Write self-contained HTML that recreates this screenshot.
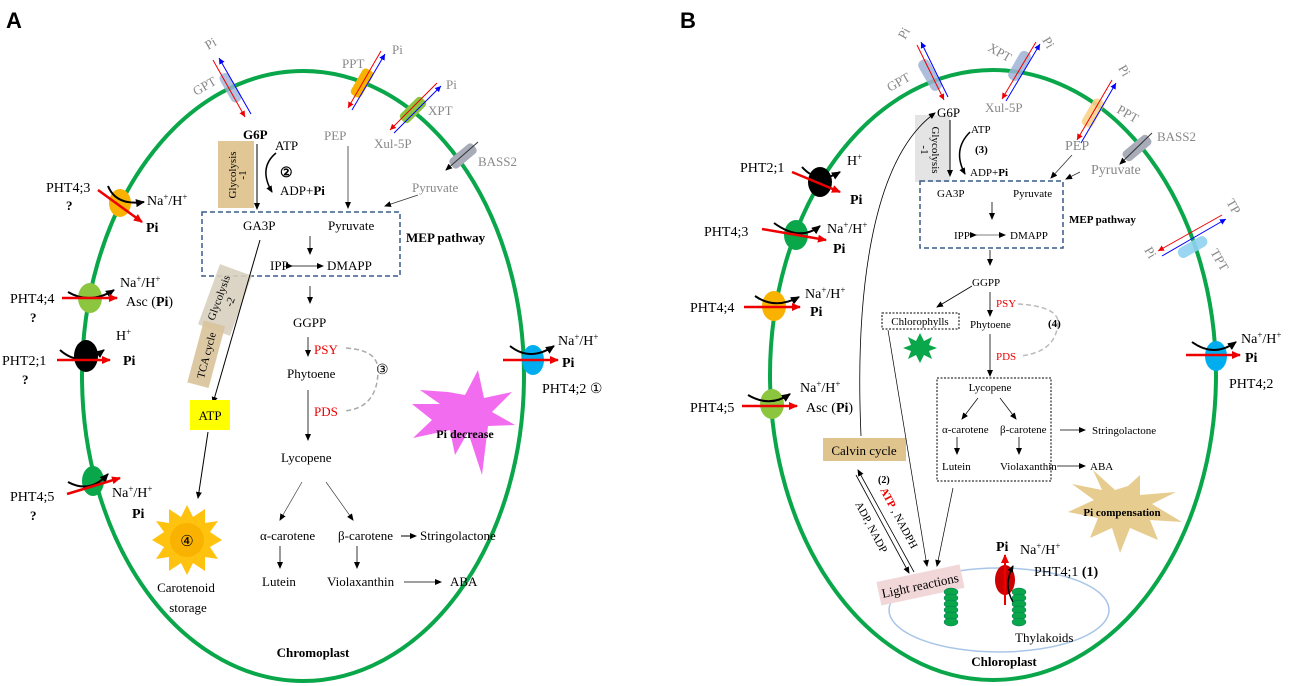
<!DOCTYPE html>
<html><head><meta charset="utf-8"><style>
html,body{margin:0;padding:0;background:#fff}
svg{display:block}
text{font-family:"Liberation Serif",serif;font-size:13px;fill:#000}
.g{fill:#888}.b{font-weight:bold}.r{fill:#e00}
.s{font-size:11px}
.t{font-family:"Liberation Sans",sans-serif;font-weight:bold;font-size:22px}
</style></head><body>
<svg width="1289" height="686" viewBox="0 0 1289 686" xmlns="http://www.w3.org/2000/svg">
<defs>
<marker id="k" markerWidth="8" markerHeight="8" refX="6" refY="3" orient="auto" markerUnits="userSpaceOnUse"><path d="M0,0 L7,3 L0,6z" fill="#000"/></marker>
<marker id="rm" markerWidth="10" markerHeight="10" refX="8" refY="4" orient="auto" markerUnits="userSpaceOnUse"><path d="M0,0 L9,4 L0,8z" fill="#e00"/></marker>
<marker id="rs" markerWidth="8" markerHeight="8" refX="6" refY="3" orient="auto" markerUnits="userSpaceOnUse"><path d="M0,0 L6,3 L0,6z" fill="#e00"/></marker>
<marker id="bs" markerWidth="8" markerHeight="8" refX="6" refY="3" orient="auto" markerUnits="userSpaceOnUse"><path d="M0,0 L6,3 L0,6z" fill="#00f"/></marker>
<marker id="kb" markerWidth="10" markerHeight="10" refX="8" refY="4" orient="auto" markerUnits="userSpaceOnUse"><path d="M0,0 L9,4 L0,8z" fill="#000"/></marker>
</defs>

<!-- ===== Panel A ===== -->
<text x="6" y="28" class="t">A</text>
<ellipse cx="303" cy="376" rx="221" ry="305" fill="none" stroke="#0aa64a" stroke-width="4"/>

<g transform="rotate(-30 230 88)"><rect x="225" y="72" width="11" height="32" rx="5" fill="#9fb3d6" opacity="0.8"/></g>
<line x1="213" y1="60" x2="245" y2="117" stroke="#e00" stroke-width="1" marker-end="url(#rs)"/>
<line x1="251" y1="114" x2="219" y2="58" stroke="#00f" stroke-width="1" marker-end="url(#bs)"/>
<text x="208" y="50" class="g" transform="rotate(-30 208 50)">Pi</text>
<text x="196" y="96" class="g" transform="rotate(-30 196 96)">GPT</text>
<g transform="rotate(30 362 83)"><rect x="356" y="68" width="12" height="30" rx="4" fill="#f9b200"/></g>
<line x1="381" y1="51" x2="348" y2="108" stroke="#e00" stroke-width="1" marker-end="url(#rs)"/>
<line x1="352" y1="110" x2="385" y2="54" stroke="#00f" stroke-width="1" marker-end="url(#bs)"/>
<text x="342" y="68" class="g">PPT</text><text x="392" y="54" class="g">Pi</text>
<g transform="rotate(45 413 110)"><rect x="407" y="95" width="12" height="30" rx="4" fill="#8cc63f"/></g>
<line x1="437" y1="83" x2="390" y2="130" stroke="#e00" stroke-width="1" marker-end="url(#rs)"/>
<line x1="394" y1="133" x2="441" y2="86" stroke="#00f" stroke-width="1" marker-end="url(#bs)"/>
<text x="446" y="89" class="g">Pi</text><text x="428" y="115" class="g">XPT</text>
<text x="374" y="148" class="g">Xul-5P</text>
<g transform="rotate(50 463 156)"><rect x="457" y="141" width="12" height="30" rx="4" fill="#a8acb8"/></g>
<line x1="478" y1="142" x2="446" y2="170" stroke="#333" stroke-width="1" marker-end="url(#k)"/>
<text x="478" y="166" class="g">BASS2</text>
<text x="412" y="192" class="g">Pyruvate</text>
<line x1="418" y1="195" x2="385" y2="206" stroke="#333" stroke-width="0.8" marker-end="url(#k)"/>

<text x="243" y="139" class="b">G6P</text>
<text x="275" y="150">ATP</text>
<rect x="218" y="141" width="36" height="67" fill="#d9b97c" opacity="0.8"/>
<text x="236" y="175" transform="rotate(-90 236 175)" text-anchor="middle" class="s">Glycolysis</text>
<text x="246" y="175" transform="rotate(-90 246 175)" text-anchor="middle" class="s">-1</text>
<line x1="257" y1="144" x2="257" y2="209" stroke="#000" marker-end="url(#k)"/>
<path d="M276,153 Q258,168 272,192" fill="none" stroke="#000" stroke-width="1.5" marker-end="url(#k)"/>
<text x="280" y="177" class="b" style="font-size:14px">②</text>
<text x="280" y="195">ADP+<tspan class="b">Pi</tspan></text>
<text x="324" y="140" class="g">PEP</text>
<line x1="348" y1="146" x2="348" y2="208" stroke="#333" stroke-width="0.8" marker-end="url(#k)"/>

<rect x="202" y="212" width="198" height="64" fill="none" stroke="#3a5a8a" stroke-width="1.5" stroke-dasharray="5,3"/>
<text x="243" y="230">GA3P</text><text x="328" y="230">Pyruvate</text>
<line x1="310" y1="236" x2="310" y2="254" stroke="#000" stroke-width="0.8" marker-end="url(#k)"/>
<text x="270" y="270">IPP</text><text x="327" y="270">DMAPP</text>
<line x1="292" y1="266" x2="323" y2="266" stroke="#000" stroke-width="0.8" marker-end="url(#k)" marker-start="url(#k)"/>
<text x="406" y="242" class="b">MEP pathway</text>

<g transform="rotate(20 225 300)"><rect x="208" y="268" width="34" height="64" fill="#d8cfbf" opacity="0.9"/>
<text x="222" y="300" transform="rotate(-90 222 300)" text-anchor="middle" class="s">Glycolysis</text>
<text x="234" y="300" transform="rotate(-90 234 300)" text-anchor="middle" class="s">-2</text></g>
<g transform="rotate(15 205 355)"><rect x="195" y="322" width="22" height="64" fill="#d8c39a" opacity="0.9"/>
<text x="210" y="355" transform="rotate(-90 210 355)" text-anchor="middle" class="s">TCA cycle</text></g>
<line x1="260" y1="240" x2="213" y2="403" stroke="#000" stroke-width="1" marker-end="url(#k)"/>
<rect x="190" y="400" width="40" height="30" fill="#ffff00"/>
<text x="210" y="420" text-anchor="middle">ATP</text>
<line x1="208" y1="432" x2="198" y2="498" stroke="#000" stroke-width="1" marker-end="url(#k)"/>
<polygon points="187,505 193,517 205,509 205,523 218,521 210,532 222,540 210,547 218,559 205,557 205,571 193,563 187,575 181,563 169,571 169,557 156,559 164,547 152,540 164,532 156,521 169,523 169,509 181,517" fill="#ffc20e"/>
<circle cx="187" cy="540" r="17" fill="#f9b200"/>
<text x="187" y="546" text-anchor="middle" style="font-size:15px">④</text>
<text x="186" y="592" text-anchor="middle">Carotenoid</text>
<text x="188" y="612" text-anchor="middle">storage</text>

<line x1="310" y1="286" x2="310" y2="303" stroke="#000" stroke-width="0.8" marker-end="url(#k)"/>
<text x="293" y="327">GGPP</text>
<line x1="308" y1="337" x2="308" y2="356" stroke="#000" stroke-width="0.8" marker-end="url(#k)"/>
<text x="314" y="354" class="r">PSY</text>
<text x="287" y="378">Phytoene</text>
<line x1="308" y1="390" x2="308" y2="440" stroke="#000" stroke-width="0.8" marker-end="url(#k)"/>
<text x="314" y="416" class="r">PDS</text>
<path d="M346,348 Q378,350 378,370 Q378,408 344,411" fill="none" stroke="#aaa" stroke-width="1.5" stroke-dasharray="5,3"/>
<text x="376" y="374" style="font-size:14px">③</text>
<text x="281" y="462">Lycopene</text>
<line x1="302" y1="482" x2="280" y2="520" stroke="#444" stroke-width="0.7" marker-end="url(#k)"/>
<line x1="326" y1="482" x2="353" y2="520" stroke="#444" stroke-width="0.7" marker-end="url(#k)"/>
<text x="260" y="540">α-carotene</text><text x="338" y="540">β-carotene</text>
<line x1="401" y1="536" x2="416" y2="536" stroke="#000" marker-end="url(#k)"/>
<text x="420" y="540">Stringolactone</text>
<line x1="280" y1="546" x2="280" y2="568" stroke="#000" stroke-width="0.8" marker-end="url(#k)"/>
<line x1="357" y1="546" x2="357" y2="568" stroke="#000" stroke-width="0.8" marker-end="url(#k)"/>
<text x="262" y="586">Lutein</text><text x="327" y="586">Violaxanthin</text>
<line x1="404" y1="582" x2="441" y2="582" stroke="#000" stroke-width="0.8" marker-end="url(#k)"/>
<text x="450" y="586">ABA</text>
<polygon points="465,395 478,370 484,398 512,392 492,412 515,425 488,426 482,475 468,432 455,455 450,430 413,438 432,420 412,404 440,404 420,390 448,392" fill="#f26cf0"/>
<text x="465" y="438" text-anchor="middle" class="b" style="font-size:12px">Pi  decrease</text>
<text x="313" y="657" text-anchor="middle" class="b">Chromoplast</text>

<ellipse cx="120" cy="203" rx="11" ry="14" fill="#f9b200"/>
<path d="M108,186 Q116,206 144,202" fill="none" stroke="#000" stroke-width="2" marker-end="url(#kb)"/>
<line x1="98" y1="190" x2="142" y2="222" stroke="#e00" stroke-width="2.5" marker-end="url(#rm)"/>
<text x="46" y="192" style="font-size:14px">PHT4;3</text><text x="66" y="210" class="b">?</text>
<text x="147" y="205" style="font-size:14px">Na<tspan dy="-5" style="font-size:9px">+</tspan><tspan dy="5">/H</tspan><tspan dy="-5" style="font-size:9px">+</tspan></text>
<text x="146" y="232" class="b" style="font-size:14px">Pi</text>

<ellipse cx="90" cy="298" rx="12" ry="15" fill="#8cc63f"/>
<path d="M68,292 Q90,305 114,290" fill="none" stroke="#000" stroke-width="2" marker-end="url(#kb)"/>
<line x1="62" y1="298" x2="117" y2="298" stroke="#e00" stroke-width="2.5" marker-end="url(#rm)"/>
<text x="10" y="303" style="font-size:14px">PHT4;4</text><text x="30" y="322" class="b">?</text>
<text x="120" y="287" style="font-size:14px">Na<tspan dy="-5" style="font-size:9px">+</tspan><tspan dy="5">/H</tspan><tspan dy="-5" style="font-size:9px">+</tspan></text>
<text x="126" y="306" style="font-size:14px">Asc (<tspan class="b">Pi</tspan>)</text>

<ellipse cx="86" cy="356" rx="12" ry="16" fill="#000"/>
<path d="M60,350 Q80,368 104,350" fill="none" stroke="#000" stroke-width="2" marker-end="url(#kb)"/>
<line x1="57" y1="360" x2="110" y2="360" stroke="#e00" stroke-width="2.5" marker-end="url(#rm)"/>
<text x="2" y="365" style="font-size:14px">PHT2;1</text><text x="22" y="384" class="b">?</text>
<text x="116" y="340" style="font-size:14px">H<tspan dy="-5" style="font-size:9px">+</tspan></text>
<text x="123" y="365" class="b" style="font-size:14px">Pi</text>

<ellipse cx="93" cy="481" rx="11" ry="15" fill="#0aa64a"/>
<path d="M68,482 Q90,494 108,474" fill="none" stroke="#000" stroke-width="2" marker-end="url(#kb)"/>
<line x1="67" y1="494" x2="120" y2="478" stroke="#e00" stroke-width="2.5" marker-end="url(#rm)"/>
<text x="10" y="501" style="font-size:14px">PHT4;5</text><text x="30" y="520" class="b">?</text>
<text x="112" y="497" style="font-size:14px">Na<tspan dy="-5" style="font-size:9px">+</tspan><tspan dy="5">/H</tspan><tspan dy="-5" style="font-size:9px">+</tspan></text>
<text x="132" y="518" class="b" style="font-size:14px">Pi</text>

<ellipse cx="533" cy="360" rx="11" ry="15" fill="#00aeef"/>
<path d="M510,346 Q530,362 554,346" fill="none" stroke="#000" stroke-width="2" marker-end="url(#kb)"/>
<line x1="503" y1="360" x2="558" y2="360" stroke="#e00" stroke-width="2.5" marker-end="url(#rm)"/>
<text x="558" y="345" style="font-size:14px">Na<tspan dy="-5" style="font-size:9px">+</tspan><tspan dy="5">/H</tspan><tspan dy="-5" style="font-size:9px">+</tspan></text>
<text x="562" y="367" class="b" style="font-size:14px">Pi</text>
<text x="542" y="393" style="font-size:14px">PHT4;2 ①</text>

<!-- ===== Panel B ===== -->
<text x="680" y="28" class="t">B</text>
<ellipse cx="993" cy="375" rx="223" ry="305" fill="none" stroke="#0aa64a" stroke-width="4"/>

<g transform="rotate(-30 930 75)"><rect x="924" y="58" width="12" height="34" rx="5" fill="#9fb3d6" opacity="0.85"/></g>
<line x1="917" y1="45" x2="944" y2="100" stroke="#e00" stroke-width="1" marker-end="url(#rs)"/>
<line x1="948" y1="97" x2="921" y2="42" stroke="#00f" stroke-width="1" marker-end="url(#bs)"/>
<text x="905" y="40" class="g" transform="rotate(-60 905 40)">Pi</text>
<text x="890" y="92" class="g" transform="rotate(-30 890 92)">GPT</text>

<g transform="rotate(30 1020 65)"><rect x="1014" y="50" width="12" height="32" rx="5" fill="#9fb3d6" opacity="0.85"/></g>
<line x1="1036" y1="42" x2="1002" y2="99" stroke="#e00" stroke-width="1" marker-end="url(#rs)"/>
<line x1="1006" y1="101" x2="1040" y2="44" stroke="#00f" stroke-width="1" marker-end="url(#bs)"/>
<text x="1042" y="40" class="g" transform="rotate(60 1042 40)">Pi</text>
<text x="987" y="50" class="g" transform="rotate(30 987 50)">XPT</text>
<text x="985" y="112" class="g">Xul-5P</text>

<g transform="rotate(30 1093 113)"><rect x="1087" y="98" width="12" height="30" rx="4" fill="#fbd38a" opacity="0.9"/></g>
<line x1="1112" y1="80" x2="1077" y2="140" stroke="#e00" stroke-width="1" marker-end="url(#rs)"/>
<line x1="1081" y1="143" x2="1116" y2="83" stroke="#00f" stroke-width="1" marker-end="url(#bs)"/>
<text x="1118" y="68" class="g" transform="rotate(60 1118 68)">Pi</text>
<text x="1116" y="112" class="g" transform="rotate(30 1116 112)">PPT</text>
<text x="1157" y="141" class="g">BASS2</text>
<g transform="rotate(50 1137 148)"><rect x="1131" y="132" width="12" height="32" rx="4" fill="#a8acb8"/></g>
<line x1="1152" y1="133" x2="1120" y2="164" stroke="#333" stroke-width="1" marker-end="url(#k)"/>
<text x="1091" y="174" class="g" style="font-size:14px">Pyruvate</text>
<line x1="1080" y1="172" x2="1066" y2="179" stroke="#333" stroke-width="0.8" marker-end="url(#k)"/>
<text x="1065" y="150" class="g" style="font-size:14px">PEP</text>
<line x1="1072" y1="155" x2="1051" y2="178" stroke="#333" stroke-width="0.8" marker-end="url(#k)"/>

<g transform="rotate(-30 1192 248)"><rect x="1177" y="242" width="32" height="11" rx="5" fill="#8fd2f0" opacity="0.9"/></g>
<line x1="1222" y1="215" x2="1158" y2="251" stroke="#e00" stroke-width="1" marker-end="url(#rs)"/>
<line x1="1162" y1="256" x2="1226" y2="219" stroke="#00f" stroke-width="1" marker-end="url(#bs)"/>
<text x="1226" y="202" class="g" transform="rotate(60 1226 202)">TP</text>
<text x="1210" y="252" class="g" transform="rotate(60 1210 252)">TPT</text>
<text x="1144" y="250" class="g" transform="rotate(60 1144 250)">Pi</text>

<rect x="915" y="115" width="35" height="67" fill="#ddd" opacity="0.8"/>
<text x="932" y="150" transform="rotate(90 932 150)" text-anchor="middle" class="s">Glycolysis</text>
<text x="921" y="150" transform="rotate(90 921 150)" text-anchor="middle" class="s">-1</text>
<text x="937" y="117">G6P</text>
<line x1="950" y1="120" x2="950" y2="176" stroke="#000" marker-end="url(#k)"/>
<text x="971" y="133" style="font-size:11px">ATP</text>
<path d="M970,132 Q952,150 965,174" fill="none" stroke="#000" stroke-width="1.5" marker-end="url(#k)"/>
<text x="975" y="153" class="b" style="font-size:11px">(3)</text>
<text x="970" y="176" style="font-size:11px">ADP+<tspan class="b">Pi</tspan></text>

<rect x="920" y="181" width="143" height="67" fill="none" stroke="#3a5a8a" stroke-width="1.5" stroke-dasharray="5,3"/>
<text x="937" y="197" style="font-size:11px">GA3P</text><text x="1013" y="197" style="font-size:11px">Pyruvate</text>
<line x1="992" y1="202" x2="992" y2="219" stroke="#000" stroke-width="0.8" marker-end="url(#k)"/>
<text x="954" y="239" style="font-size:11px">IPP</text><text x="1010" y="239" style="font-size:11px">DMAPP</text>
<line x1="976" y1="235" x2="1005" y2="235" stroke="#555" stroke-width="0.8" marker-end="url(#k)" marker-start="url(#k)"/>
<text x="1069" y="223" class="b" style="font-size:11px">MEP pathway</text>

<line x1="990" y1="250" x2="990" y2="265" stroke="#000" stroke-width="0.8" marker-end="url(#k)"/>
<text x="972" y="286" style="font-size:11px">GGPP</text>
<line x1="972" y1="286" x2="937" y2="307" stroke="#000" stroke-width="0.8" marker-end="url(#k)"/>
<rect x="882" y="313" width="77" height="16" fill="none" stroke="#000" stroke-dasharray="2,1.5"/>
<text x="920" y="325" text-anchor="middle" style="font-size:11px">Chlorophylls</text>
<polygon points="920,333 924,341 932,337 929,345 937,348 929,351 932,359 924,355 920,363 916,355 908,359 911,351 903,348 911,345 908,337 916,341" fill="#0aa64a"/>
<line x1="990" y1="292" x2="990" y2="316" stroke="#000" stroke-width="0.8" marker-end="url(#k)"/>
<text x="996" y="307" class="r" style="font-size:11px">PSY</text>
<text x="970" y="328" style="font-size:11px">Phytoene</text>
<text x="1048" y="327" class="b" style="font-size:11px">(4)</text>
<path d="M1018,304 Q1054,306 1058,320 Q1058,352 1020,356" fill="none" stroke="#bbb" stroke-width="1.5" stroke-dasharray="5,3"/>
<line x1="990" y1="334" x2="990" y2="376" stroke="#000" stroke-width="0.8" marker-end="url(#k)"/>
<text x="996" y="360" class="r" style="font-size:11px">PDS</text>

<rect x="937" y="378" width="114" height="103" fill="none" stroke="#000" stroke-dasharray="2,1.5"/>
<text x="990" y="391" text-anchor="middle" style="font-size:11px">Lycopene</text>
<line x1="978" y1="398" x2="962" y2="419" stroke="#000" stroke-width="0.7" marker-end="url(#k)"/>
<line x1="1000" y1="398" x2="1016" y2="419" stroke="#000" stroke-width="0.7" marker-end="url(#k)"/>
<text x="942" y="433" style="font-size:11px">α-carotene</text><text x="1000" y="433" style="font-size:11px">β-carotene</text>
<line x1="957" y1="437" x2="957" y2="454" stroke="#000" stroke-width="0.8" marker-end="url(#k)"/>
<line x1="1019" y1="437" x2="1019" y2="454" stroke="#000" stroke-width="0.8" marker-end="url(#k)"/>
<text x="942" y="470" style="font-size:11px">Lutein</text><text x="1000" y="470" style="font-size:11px">Violaxanthin</text>
<line x1="1060" y1="430" x2="1085" y2="430" stroke="#000" stroke-width="0.8" marker-end="url(#k)"/>
<text x="1092" y="434" style="font-size:11px">Stringolactone</text>
<line x1="1057" y1="466" x2="1085" y2="466" stroke="#000" stroke-width="0.8" marker-end="url(#k)"/>
<text x="1090" y="470" style="font-size:11px">ABA</text>
<polygon points="1128,486 1140,475 1140,495 1176,492 1152,504 1182,522 1150,520 1158,540 1130,528 1120,553 1112,528 1090,538 1098,518 1068,512 1094,500 1072,484 1102,490 1093,470 1115,490" fill="#e7cc8f"/>
<text x="1122" y="516" text-anchor="middle" class="b" style="font-size:11px">Pi compensation</text>

<rect x="823" y="438" width="83" height="23" fill="#dfc48e"/>
<text x="864" y="455" text-anchor="middle">Calvin cycle</text>
<path d="M861,436 C855,300 870,160 935,113" fill="none" stroke="#000" stroke-width="0.8" marker-end="url(#k)"/>
<line x1="914" y1="572" x2="858" y2="470" stroke="#000" stroke-width="0.8" marker-end="url(#k)"/>
<line x1="856" y1="475" x2="909" y2="573" stroke="#000" stroke-width="0.8" marker-end="url(#k)"/>
<text x="878" y="483" class="b" style="font-size:10px">(2)</text>
<text x="880" y="490" transform="rotate(62 880 490)" style="font-size:11px"><tspan class="r b">ATP</tspan> , NADPH</text>
<text x="855" y="504" transform="rotate(62 855 504)" style="font-size:11px">ADP, NADP</text>
<line x1="888" y1="330" x2="927" y2="566" stroke="#000" stroke-width="0.7" marker-end="url(#k)"/>
<line x1="953" y1="488" x2="937" y2="566" stroke="#000" stroke-width="0.7" marker-end="url(#k)"/>

<ellipse cx="999" cy="610" rx="110" ry="42" fill="none" stroke="#a9c6e8" stroke-width="1.5"/>
<g transform="rotate(-12 920 585)"><rect x="878" y="573" width="85" height="24" fill="#f2d7d9"/>
<text x="920" y="590" text-anchor="middle">Light reactions</text></g>
<g fill="#0aa64a" stroke="#075" stroke-width="0.5">
<ellipse cx="951" cy="592" rx="7" ry="4"/><ellipse cx="951" cy="598" rx="7" ry="4"/><ellipse cx="951" cy="604" rx="7" ry="4"/><ellipse cx="951" cy="610" rx="7" ry="4"/><ellipse cx="951" cy="616" rx="7" ry="4"/><ellipse cx="951" cy="622" rx="7" ry="4"/>
<ellipse cx="1019" cy="592" rx="7" ry="4"/><ellipse cx="1019" cy="598" rx="7" ry="4"/><ellipse cx="1019" cy="604" rx="7" ry="4"/><ellipse cx="1019" cy="610" rx="7" ry="4"/><ellipse cx="1019" cy="616" rx="7" ry="4"/><ellipse cx="1019" cy="622" rx="7" ry="4"/>
</g>
<ellipse cx="1005" cy="580" rx="10" ry="15" fill="#c00"/>
<line x1="1005" y1="605" x2="1005" y2="555" stroke="#e00" stroke-width="2" marker-end="url(#rm)"/>
<path d="M1013,602 Q1003,585 1013,566" fill="none" stroke="#000" stroke-width="1.5" marker-end="url(#k)"/>
<text x="996" y="551" class="b" style="font-size:14px">Pi</text>
<text x="1020" y="554" style="font-size:14px">Na<tspan dy="-5" style="font-size:9px">+</tspan><tspan dy="5">/H</tspan><tspan dy="-5" style="font-size:9px">+</tspan></text>
<text x="1034" y="576" style="font-size:14px">PHT4;1 <tspan class="b">(1)</tspan></text>
<text x="1015" y="642" style="font-size:13px">Thylakoids</text>
<text x="1004" y="666" text-anchor="middle" class="b">Chloroplast</text>

<ellipse cx="820" cy="182" rx="12" ry="15" fill="#000"/>
<path d="M802,167 Q818,185 840,172" fill="none" stroke="#000" stroke-width="2" marker-end="url(#kb)"/>
<line x1="792" y1="172" x2="840" y2="192" stroke="#e00" stroke-width="2.5" marker-end="url(#rm)"/>
<text x="740" y="172" style="font-size:14px">PHT2;1</text>
<text x="847" y="165" style="font-size:14px">H<tspan dy="-5" style="font-size:9px">+</tspan></text>
<text x="850" y="204" class="b" style="font-size:14px">Pi</text>
<ellipse cx="796" cy="235" rx="12" ry="15" fill="#0aa64a"/>
<path d="M774,223 Q800,242 820,226" fill="none" stroke="#000" stroke-width="2" marker-end="url(#kb)"/>
<line x1="762" y1="229" x2="826" y2="240" stroke="#e00" stroke-width="2.5" marker-end="url(#rm)"/>
<text x="704" y="236" style="font-size:14px">PHT4;3</text>
<text x="827" y="233" style="font-size:14px">Na<tspan dy="-5" style="font-size:9px">+</tspan><tspan dy="5">/H</tspan><tspan dy="-5" style="font-size:9px">+</tspan></text>
<text x="833" y="253" class="b" style="font-size:14px">Pi</text>
<ellipse cx="774" cy="306" rx="12" ry="15" fill="#f9b200"/>
<path d="M755,296 Q775,310 799,297" fill="none" stroke="#000" stroke-width="2" marker-end="url(#kb)"/>
<line x1="744" y1="307" x2="800" y2="307" stroke="#e00" stroke-width="2.5" marker-end="url(#rm)"/>
<text x="690" y="312" style="font-size:14px">PHT4;4</text>
<text x="805" y="298" style="font-size:14px">Na<tspan dy="-5" style="font-size:9px">+</tspan><tspan dy="5">/H</tspan><tspan dy="-5" style="font-size:9px">+</tspan></text>
<text x="810" y="316" class="b" style="font-size:14px">Pi</text>
<ellipse cx="772" cy="404" rx="12" ry="15" fill="#8cc63f"/>
<path d="M748,395 Q770,408 790,394" fill="none" stroke="#000" stroke-width="2" marker-end="url(#kb)"/>
<line x1="742" y1="406" x2="797" y2="406" stroke="#e00" stroke-width="2.5" marker-end="url(#rm)"/>
<text x="690" y="412" style="font-size:14px">PHT4;5</text>
<text x="800" y="392" style="font-size:14px">Na<tspan dy="-5" style="font-size:9px">+</tspan><tspan dy="5">/H</tspan><tspan dy="-5" style="font-size:9px">+</tspan></text>
<text x="806" y="412" style="font-size:14px">Asc (<tspan class="b">Pi</tspan>)</text>

<ellipse cx="1216" cy="356" rx="11" ry="15" fill="#00aeef"/>
<path d="M1192,342 Q1214,358 1236,342" fill="none" stroke="#000" stroke-width="2" marker-end="url(#kb)"/>
<line x1="1186" y1="355" x2="1240" y2="355" stroke="#e00" stroke-width="2.5" marker-end="url(#rm)"/>
<text x="1241" y="343" style="font-size:14px">Na<tspan dy="-5" style="font-size:9px">+</tspan><tspan dy="5">/H</tspan><tspan dy="-5" style="font-size:9px">+</tspan></text>
<text x="1245" y="362" class="b" style="font-size:14px">Pi</text>
<text x="1229" y="388" style="font-size:14px">PHT4;2</text>
</svg>
</body></html>
